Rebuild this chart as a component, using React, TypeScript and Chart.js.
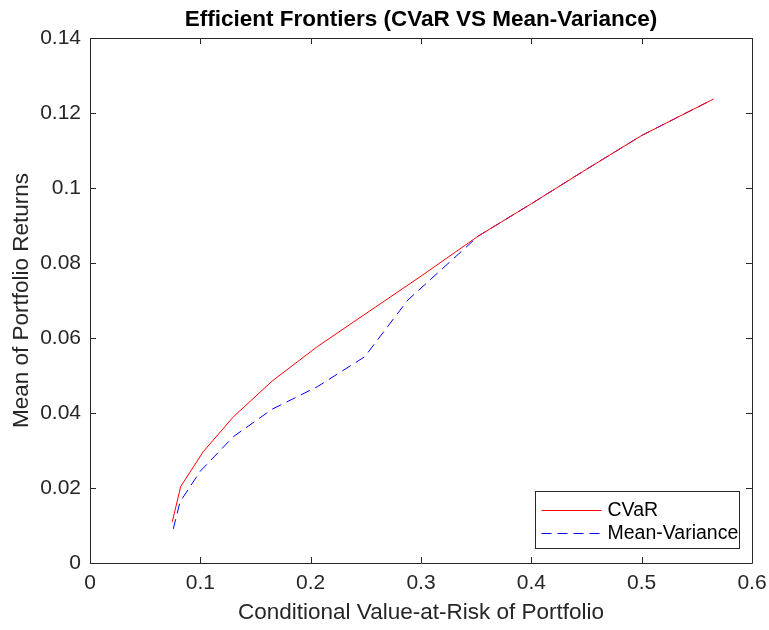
import React, { useEffect, useRef } from "react";
import { Chart, registerables } from "chart.js";

Chart.register(...registerables);

const TITLE = "Efficient Frontiers (CVaR VS Mean-Variance)";
const X_LABEL = "Conditional Value-at-Risk of Portfolio";
const Y_LABEL = "Mean of Portfolio Returns";

const X_TICKS = [0, 0.1, 0.2, 0.3, 0.4, 0.5, 0.6];
const Y_TICKS = [0, 0.02, 0.04, 0.06, 0.08, 0.1, 0.12, 0.14];

const SERIES_NAMES = ["CVaR", "Mean-Variance"];

const CVAR_RISK = [0.0746, 0.0822, 0.1027, 0.13, 0.165, 0.206, 0.25, 0.3, 0.352, 0.4, 0.45, 0.5, 0.565];
const CVAR_RETURN = [0.011, 0.0204, 0.0297, 0.039, 0.0485, 0.0577, 0.0665, 0.0765, 0.0872, 0.0958, 0.105, 0.114, 0.1237];

const MV_RISK = [0.0755, 0.0816, 0.1, 0.13, 0.165, 0.206, 0.249, 0.288, 0.352, 0.4, 0.45, 0.5, 0.565];
const MV_RETURN = [0.0091, 0.0163, 0.0245, 0.0337, 0.041, 0.047, 0.055, 0.0701, 0.0872, 0.0958, 0.105, 0.114, 0.1237];

const FONT = "'Liberation Sans', Arial, Helvetica, sans-serif";
const AXIS_COLOR = "#262626";
const TICK_LEN = 6;

const fmt = (v: number) => String(parseFloat(Number(v).toFixed(6)));

const framePlugin = {
  id: "matlabFrame",
  afterDraw(chart: any) {
    const { ctx, chartArea } = chart;
    const { left, right, top, bottom } = chartArea;
    const xs = chart.scales.x;
    const ys = chart.scales.y;
    ctx.save();
    ctx.strokeStyle = AXIS_COLOR;
    ctx.lineWidth = 1;
    ctx.beginPath();
    ctx.rect(Math.round(left) + 0.5, Math.round(top) + 0.5, Math.round(right - left), Math.round(bottom - top));
    ctx.stroke();
    ctx.beginPath();
    for (const v of X_TICKS) {
      const px = Math.round(xs.getPixelForValue(v)) + 0.5;
      ctx.moveTo(px, bottom);
      ctx.lineTo(px, bottom - TICK_LEN);
      ctx.moveTo(px, top);
      ctx.lineTo(px, top + TICK_LEN);
    }
    for (const v of Y_TICKS) {
      const py = Math.round(ys.getPixelForValue(v)) + 0.5;
      ctx.moveTo(left, py);
      ctx.lineTo(left + TICK_LEN, py);
      ctx.moveTo(right, py);
      ctx.lineTo(right - TICK_LEN, py);
    }
    ctx.stroke();

    // title
    ctx.fillStyle = "#000000";
    ctx.font = `bold 22.5px ${FONT}`;
    ctx.textAlign = "center";
    ctx.textBaseline = "middle";
    ctx.fillText(TITLE, (left + right) / 2, 20);

    // legend
    const boxW = 204;
    const boxH = 57;
    const bx = Math.round(right - 13 - boxW) + 0.5;
    const by = Math.round(bottom - 15 - boxH) + 0.5;
    ctx.fillStyle = "#ffffff";
    ctx.fillRect(bx, by, boxW, boxH);
    ctx.strokeStyle = AXIS_COLOR;
    ctx.lineWidth = 1;
    ctx.strokeRect(bx, by, boxW, boxH);
    const ds = chart.data.datasets;
    const rowY = [by + 18, by + 41];
    ds.forEach((d: any, i: number) => {
      const y = Math.round(rowY[i]) + 0.5;
      ctx.save();
      ctx.strokeStyle = d.borderColor;
      ctx.lineWidth = 1;
      ctx.setLineDash(d.borderDash || []);
      ctx.beginPath();
      ctx.moveTo(bx + 6, y);
      ctx.lineTo(bx + 66, y);
      ctx.stroke();
      ctx.restore();
      ctx.fillStyle = "#000000";
      ctx.font = `19.5px ${FONT}`;
      ctx.textAlign = "left";
      ctx.textBaseline = "middle";
      ctx.fillText(d.label, bx + 72, y);
    });
    ctx.restore();
  },
};

export default function App() {
  const ref = useRef<HTMLCanvasElement | null>(null);
  useEffect(() => {
    if (!ref.current) return;
    const chart = new Chart(ref.current, {
      type: "line",
      data: {
        datasets: [
          {
            label: SERIES_NAMES[0],
            data: CVAR_RISK.map((x, i) => ({ x, y: CVAR_RETURN[i] })),
            borderColor: "#ff0000",
            borderWidth: 1,
            pointRadius: 0,
            tension: 0,
            fill: false,
          },
          {
            label: SERIES_NAMES[1],
            data: MV_RISK.map((x, i) => ({ x, y: MV_RETURN[i] })),
            borderColor: "#0000ff",
            borderWidth: 1,
            borderDash: [10, 6],
            pointRadius: 0,
            tension: 0,
            fill: false,
          },
        ],
      },
      options: {
        responsive: false,
        animation: false,
        devicePixelRatio: 1,
        layout: { padding: { top: 38, right: 17, left: 0, bottom: 0 } },
        plugins: {
          legend: { display: false },
          title: { display: false },
          tooltip: { enabled: false },
        },
        scales: {
          x: {
            type: "linear",
            min: 0,
            max: 0.6,
            afterBuildTicks: (s: any) => {
              s.ticks = X_TICKS.map((v) => ({ value: v }));
            },
            afterFit: (s: any) => {
              s.height = 67;
              s.paddingLeft = 0;
              s.paddingRight = 0;
            },
            grid: { display: false, drawTicks: false },
            border: { display: false },
            ticks: {
              padding: 8,
              color: AXIS_COLOR,
              font: { family: FONT, size: 21 },
              maxRotation: 0,
              callback: (v: any) => fmt(v),
            },
            title: {
              display: true,
              text: X_LABEL,
              color: AXIS_COLOR,
              font: { family: FONT, size: 22.5 },
              padding: { top: 0, bottom: 4 },
            },
          },
          y: {
            type: "linear",
            min: 0,
            max: 0.14,
            afterBuildTicks: (s: any) => {
              s.ticks = Y_TICKS.map((v) => ({ value: v }));
            },
            afterFit: (s: any) => {
              s.width = 90;
              s.paddingTop = 0;
              s.paddingBottom = 0;
            },
            grid: { display: false, drawTicks: false },
            border: { display: false },
            ticks: {
              padding: 9,
              color: AXIS_COLOR,
              font: { family: FONT, size: 21 },
              callback: (v: any) => fmt(v),
            },
            title: {
              display: true,
              text: Y_LABEL,
              color: AXIS_COLOR,
              font: { family: FONT, size: 22.5 },
              padding: { top: 8, bottom: 0 },
            },
          },
        },
      },
      plugins: [framePlugin],
    });
    return () => chart.destroy();
  }, []);

  return (
    <div style={{ position: "absolute", left: 0, top: 0, width: 769, height: 630, background: "#ffffff" }}>
      <canvas ref={ref} width={769} height={630} style={{ width: 769, height: 630 }} />
    </div>
  );
}
